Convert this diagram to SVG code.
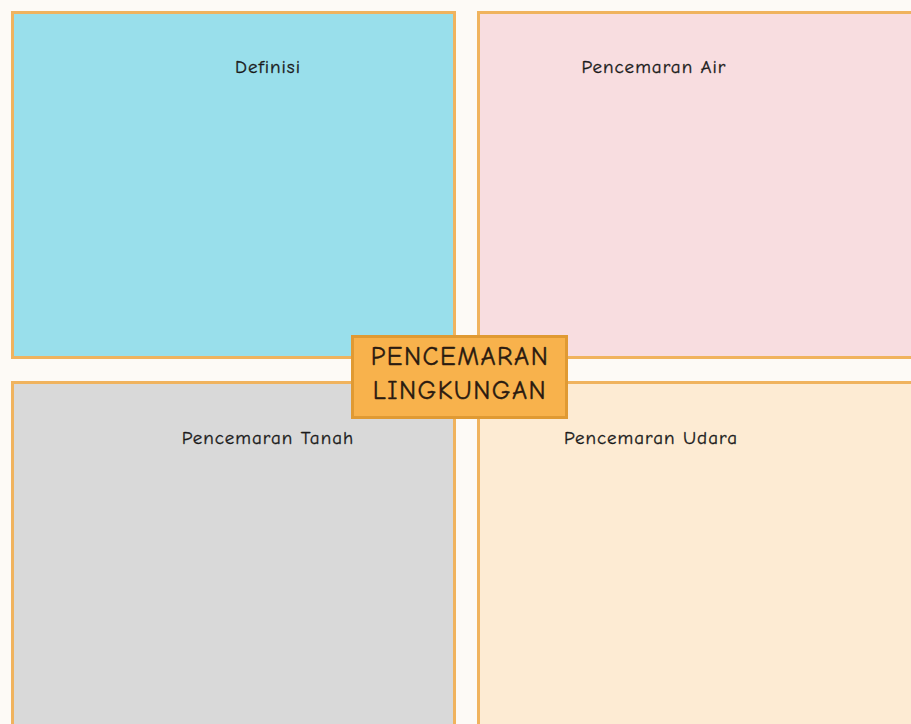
<svg xmlns="http://www.w3.org/2000/svg" width="911" height="724" viewBox="0 0 911 724">
<style>
.panel{stroke:#f0b35e;stroke-width:3}
.lbl{font-family:"Comic Neue","Open Sans","Liberation Sans",sans-serif;font-size:19px;letter-spacing:1px;fill:#1a1a1a;stroke:#1a1a1a;stroke-width:0.3;text-anchor:middle}
.title{font-family:"Comic Neue","Open Sans","Liberation Sans",sans-serif;font-size:26px;letter-spacing:1.5px;fill:#2a1a10;stroke:#2a1a10;stroke-width:0.4;text-anchor:middle}
</style>
<rect x="0" y="0" width="911" height="724" fill="#fdfaf6"/>
<g id="definisi">
<rect class="panel" x="12.5" y="12.5" width="442" height="345" fill="#99dfeb"/>
<text class="lbl" x="268" y="73">Definisi</text>
</g>
<g id="pencemaran-air">
<rect class="panel" x="478.5" y="12.5" width="440" height="345" fill="#f8dde0"/>
<text class="lbl" x="654" y="73">Pencemaran Air</text>
</g>
<g id="pencemaran-tanah">
<rect class="panel" x="12.5" y="382.5" width="442" height="350" fill="#d9d9d9"/>
<text class="lbl" x="268" y="444">Pencemaran Tanah</text>
</g>
<g id="pencemaran-udara">
<rect class="panel" x="478.5" y="382.5" width="440" height="350" fill="#fdebd3"/>
<text class="lbl" x="651" y="444">Pencemaran Udara</text>
</g>
<g id="center">
<rect x="352.5" y="336.5" width="214" height="81" fill="#f8b24c" stroke="#e09a33" stroke-width="3"/>
<text class="title" x="460" y="365">PENCEMARAN</text>
<text class="title" x="460" y="399">LINGKUNGAN</text>
</g>
<g id="connectors"></g>
</svg>
